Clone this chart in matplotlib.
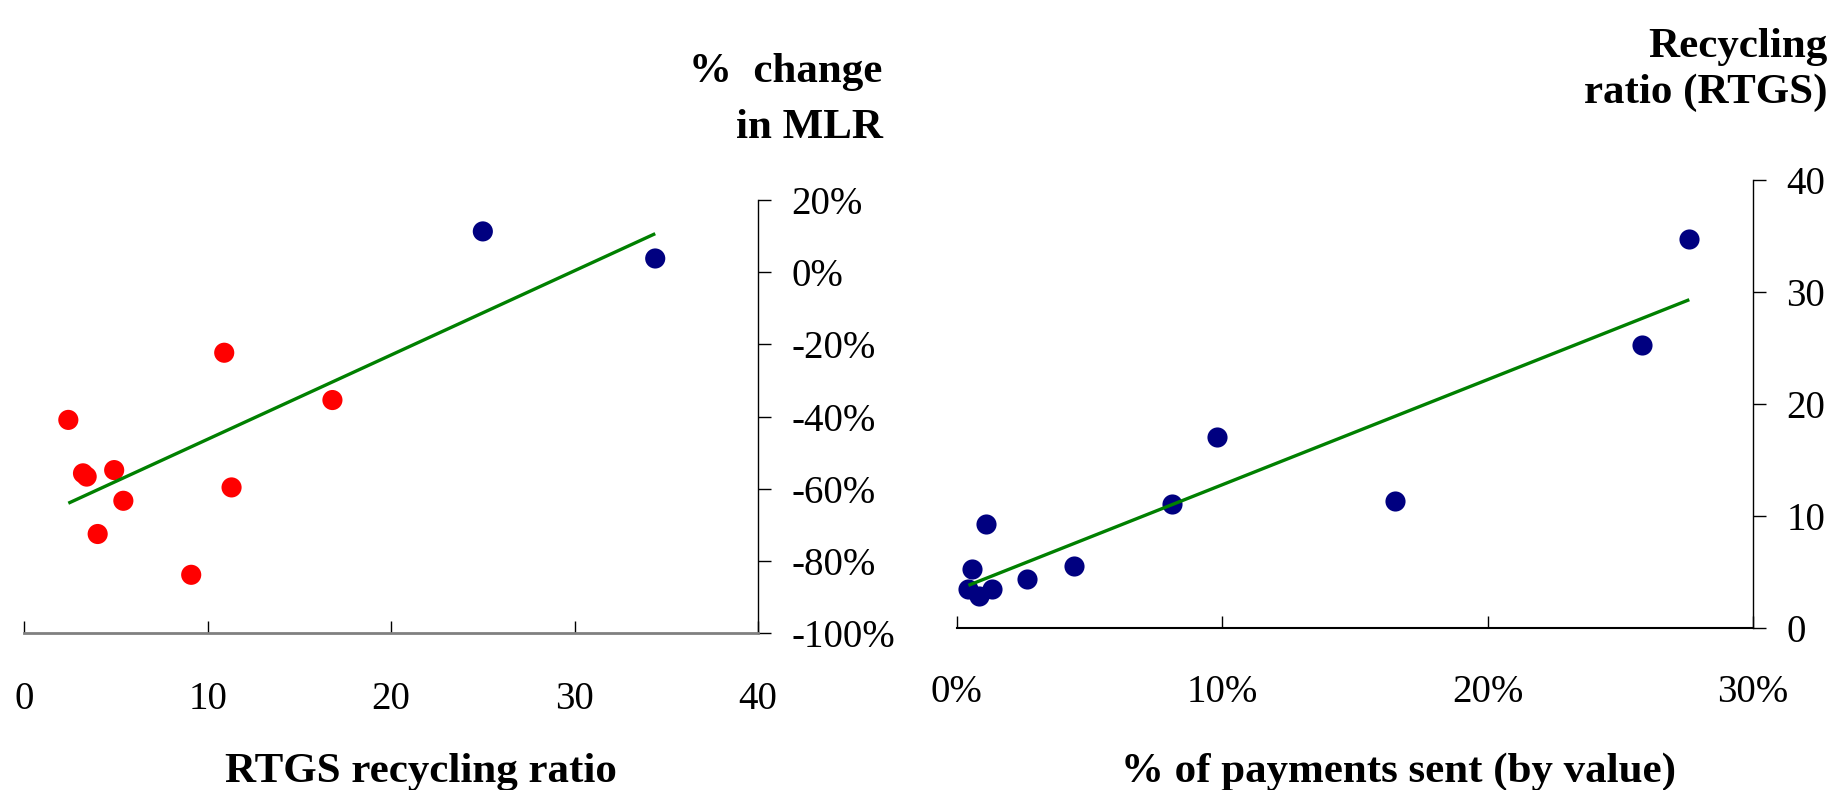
import numpy as np
import matplotlib.pyplot as plt

plt.rcParams['font.family'] = ['Liberation Serif', 'DejaVu Serif']

# left panel: RTGS recycling ratio vs % change in MLR
recycling_ratio = [25.0, 34.4, 10.9, 16.8, 2.4, 3.2, 3.4, 4.9, 11.3, 5.4, 4.0, 9.1]
mlr_change = [11.3, 3.8, -22.3, -35.4, -40.9, -55.7, -56.6, -54.8, -59.6, -63.3, -72.5, -83.8]

# right panel: share of payments sent vs recycling ratio
payments_share = [27.6, 25.8, 9.8, 16.5, 8.1, 1.09, 0.58, 0.44, 0.84, 1.34, 2.63, 4.4]
recycling_rtgs = [34.7, 25.3, 17.1, 11.4, 11.1, 9.28, 5.29, 3.51, 2.88, 3.48, 4.40, 5.6]

left_xticks = [0, 10, 20, 30, 40]
left_yticks = [-100, -80, -60, -40, -20, 0, 20]
right_xticks = [0, 10, 20, 30]
right_yticks = [0, 10, 20, 30, 40]

NAVY = '#000080'
RED = '#FF0000'
GREEN = '#008000'
TICK_FS = 28
LABEL_FS = 31

fig = plt.figure(figsize=(18.47, 7.9), dpi=100)
ax1 = fig.add_axes([0.01316, 0.19835, 0.3972, 0.5485])
ax2 = fig.add_axes([0.518, 0.2047, 0.4311, 0.5675])


def trend(ax, x, y):
    x = np.asarray(x, float)
    y = np.asarray(y, float)
    k, b = np.polyfit(x, y, 1)
    xs = np.array([x.min(), x.max()])
    ax.plot(xs, k * xs + b, color=GREEN, lw=2.4, zorder=4, solid_capstyle='butt')


def style(ax, bottom_color, bottom_lw, xpad):
    for s in ['top', 'left']:
        ax.spines[s].set_visible(False)
    ax.spines['right'].set_color('black')
    ax.spines['right'].set_linewidth(1)
    ax.spines['bottom'].set_color(bottom_color)
    ax.spines['bottom'].set_linewidth(bottom_lw)
    ax.yaxis.tick_right()
    ax.tick_params(axis='x', direction='in', length=8.6, width=1, color='black',
                   pad=xpad, labelsize=TICK_FS)
    ax.tick_params(axis='y', direction='out', length=9.3, width=1, color='black',
                   pad=14.8, labelsize=TICK_FS)
    ax.set_facecolor('none')


# left panel
colors = [NAVY if v > 0 else RED for v in mlr_change]
ax1.scatter(recycling_ratio, mlr_change, s=210, c=colors, linewidths=0, zorder=3, clip_on=False)
trend(ax1, recycling_ratio, mlr_change)
ax1.set_xlim(0, 40)
ax1.set_ylim(-100, 20)
ax1.set_xticks(left_xticks)
ax1.set_yticks(left_yticks)
ax1.set_yticklabels([f'{v}%' for v in left_yticks])
for lab, v in zip(ax1.get_yticklabels(), left_yticks):
    lab.set_color(RED if v < 0 else 'black')
style(ax1, '#808080', 2, 34)

# right panel
ax2.scatter(payments_share, recycling_rtgs, s=210, c=NAVY, linewidths=0, zorder=3, clip_on=False)
trend(ax2, payments_share, recycling_rtgs)
ax2.set_xlim(0, 30)
ax2.set_ylim(0, 40)
ax2.set_xticks(right_xticks)
ax2.set_xticklabels([f'{v}%' for v in right_xticks])
ax2.set_yticks(right_yticks)
style(ax2, 'black', 1.5, 33)

# axis titles
fig.text(0.478, 0.8962, '%  change', ha='right', va='baseline', fontsize=LABEL_FS, fontweight='bold')
fig.text(0.478, 0.8253, 'in MLR', ha='right', va='baseline', fontsize=LABEL_FS, fontweight='bold')
fig.text(0.9892, 0.9278, 'Recycling', ha='right', va='baseline', fontsize=LABEL_FS, fontweight='bold')
fig.text(0.9892, 0.8696, 'ratio (RTGS)', ha='right', va='baseline', fontsize=LABEL_FS, fontweight='bold')
fig.text(0.228, 0.0105, 'RTGS recycling ratio', ha='center', va='baseline', fontsize=LABEL_FS, fontweight='bold')
fig.text(0.757, 0.0105, '% of payments sent (by value)', ha='center', va='baseline', fontsize=LABEL_FS, fontweight='bold')

fig.savefig('out.png', dpi=100)
